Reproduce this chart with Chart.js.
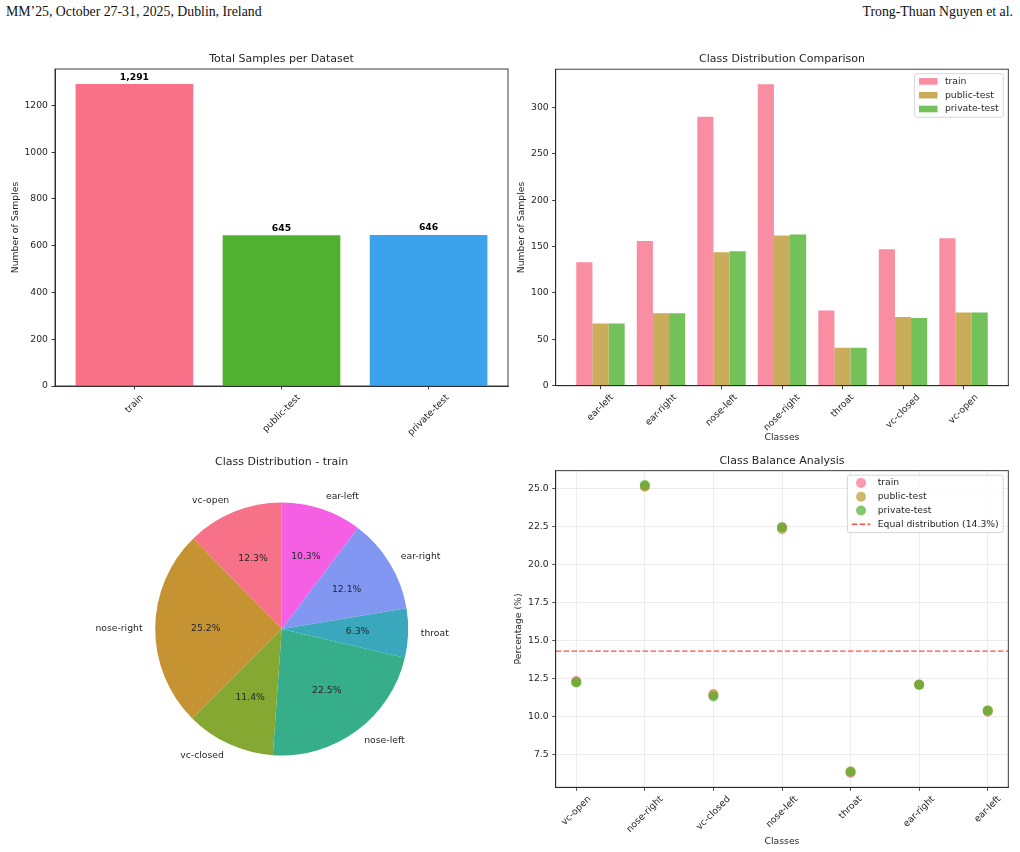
<!DOCTYPE html>
<html>
<head>
<meta charset="utf-8">
<script src="https://cdn.jsdelivr.net/npm/chart.js@4.4.1/dist/chart.umd.min.js"></script>
<style>
  body { margin: 0; background: #fff; width: 1020px; height: 852px; position: relative; overflow: hidden; }
  .hdr { position: absolute; top: 4px; font-family: "Liberation Serif", serif; font-size: 13.8px; line-height: 16px; color: #111; }
  canvas { position: absolute; }
</style>
</head>
<body>
<div class="hdr" style="left:6px">MM’25, October 27-31, 2025, Dublin, Ireland</div>
<div class="hdr" style="right:7px">Trong-Thuan Nguyen et al.</div>
<canvas id="totals" width="510" height="410" style="left:0;top:40px"></canvas>
<canvas id="compare" width="510" height="410" style="left:510px;top:40px"></canvas>
<canvas id="pie" width="510" height="402" style="left:0;top:450px"></canvas>
<canvas id="balance" width="510" height="402" style="left:510px;top:450px"></canvas>
<script>
// data
const splits = ['train', 'public-test', 'private-test'];
const splitTotals = [1291, 645, 646];
const totalTicks = [0, 200, 400, 600, 800, 1000, 1200];

const classes = ['ear-left', 'ear-right', 'nose-left', 'nose-right', 'throat', 'vc-closed', 'vc-open'];
const trainCounts = [133, 156, 290, 325, 81, 147, 159];
const publicCounts = [67, 78, 144, 162, 41, 74, 79];
const privateCounts = [67, 78, 145, 163, 41, 73, 79];
const countTicks = [0, 50, 100, 150, 200, 250, 300];

// pie slices, clockwise from 12 o'clock
const pieClasses = ['ear-left', 'ear-right', 'throat', 'nose-left', 'vc-closed', 'nose-right', 'vc-open'];
const pieCounts = [133, 156, 81, 290, 147, 325, 159];

const balanceClasses = ['vc-open', 'nose-right', 'vc-closed', 'nose-left', 'throat', 'ear-right', 'ear-left'];
const trainPct = [12.32, 25.17, 11.39, 22.46, 6.27, 12.08, 10.30];
const publicPct = [12.25, 25.12, 11.47, 22.33, 6.36, 12.09, 10.39];
const privatePct = [12.23, 25.23, 11.30, 22.45, 6.35, 12.07, 10.37];
const pctTicks = [7.5, 10.0, 12.5, 15.0, 17.5, 20.0, 22.5, 25.0];
const equalPct = 14.29;

const ink = '#262626';
const FS = 9.25;
const FONT = '"DejaVu Sans", sans-serif';
const splitColors = ['#f77189', '#50b131', '#3ba3ec'];
const seriesRGB = ['247,113,137', '187,152,50', '80,177,49'];
const pieColors = ['#f45fe3', '#8297f1', '#39a8bd', '#36ae89', '#84a832', '#c69333', '#f77189'];

Chart.defaults.font.family = FONT;
Chart.defaults.font.size = FS;
Chart.defaults.color = ink;
Chart.defaults.animation = false;
Chart.defaults.plugins.tooltip.enabled = false;
Chart.defaults.plugins.legend.display = false;

// box around the plot like matplotlib spines
const frame = {
  id: 'frame',
  afterDraw(chart) {
    const a = chart.chartArea, ctx = chart.ctx;
    ctx.save();
    ctx.strokeStyle = ink;
    ctx.lineWidth = 0.9;
    ctx.strokeRect(a.left, a.top, a.right - a.left, a.bottom - a.top);
    ctx.restore();
  }
};

// x labels rotated 45deg, centred under the tick
const rotLabels = {
  id: 'rotLabels',
  afterDraw(chart, args, opts) {
    const sx = chart.scales.x, ctx = chart.ctx;
    ctx.save();
    ctx.font = FS + 'px ' + FONT;
    ctx.fillStyle = ink;
    ctx.textAlign = 'center';
    ctx.textBaseline = 'middle';
    opts.labels.forEach((t, i) => {
      const d = (ctx.measureText(t).width + 10.8) * Math.SQRT1_2;
      ctx.save();
      ctx.translate(sx.getPixelForValue(i), sx.top + 6.5 + d / 2);
      ctx.rotate(-Math.PI / 4);
      ctx.fillText(t, 0, 0);
      ctx.restore();
    });
    ctx.restore();
  }
};

// upper-right legend box
const boxLegend = {
  id: 'boxLegend',
  afterDraw(chart, args, opts) {
    const ctx = chart.ctx, a = chart.chartArea;
    ctx.save();
    ctx.font = FS + 'px ' + FONT;
    const tw = Math.max(...opts.items.map(it => ctx.measureText(it.label).width));
    const w = 4.4 + 18.5 + 7.4 + tw + 4.6;
    const step = 13.8;
    const h = 7.7 + (opts.items.length - 1) * step + 8.3;
    const x0 = a.right - 5 - w, y0 = a.top + 4.5;
    ctx.fillStyle = 'rgba(255,255,255,0.8)';
    ctx.strokeStyle = '#cccccc';
    ctx.lineWidth = 0.8;
    ctx.beginPath();
    ctx.roundRect(x0, y0, w, h, 2.5);
    ctx.fill();
    ctx.stroke();
    opts.items.forEach((it, i) => {
      const cy = y0 + 7.7 + i * step;
      const hx = x0 + 4.4;
      if (it.kind === 'patch') {
        ctx.fillStyle = it.color;
        ctx.fillRect(hx, cy - 3.3, 18.5, 6.6);
      } else if (it.kind === 'dot') {
        ctx.fillStyle = it.color;
        ctx.beginPath();
        ctx.arc(hx + 9.25, cy, 5, 0, Math.PI * 2);
        ctx.fill();
      } else {
        ctx.strokeStyle = it.color;
        ctx.lineWidth = 1.4;
        ctx.setLineDash([5.5, 2.4]);
        ctx.beginPath();
        ctx.moveTo(hx, cy);
        ctx.lineTo(hx + 18.5, cy);
        ctx.stroke();
        ctx.setLineDash([]);
      }
      ctx.fillStyle = ink;
      ctx.textBaseline = 'middle';
      ctx.textAlign = 'left';
      ctx.fillText(it.label, hx + 18.5 + 7.4, cy);
    });
    ctx.restore();
  }
};

function xAxis(min, max, names, height, title) {
  return {
    type: 'linear', min: min, max: max, bounds: 'data', offset: false,
    afterBuildTicks: s => { s.ticks = names.map((_, i) => ({ value: i })); },
    ticks: { display: false },
    grid: { drawOnChartArea: false, offset: false, tickLength: 3.5, tickColor: ink, lineWidth: 0.9 },
    border: { color: ink, width: 0.9 },
    title: title,
    afterFit: s => { s.height = height; }
  };
}

function yAxis(min, max, tickVals, width, title, fmt) {
  return {
    min: min, max: max, bounds: 'data',
    afterBuildTicks: s => { s.ticks = tickVals.map(v => ({ value: v })); },
    ticks: { padding: 3.5, color: ink, callback: fmt },
    grid: { drawOnChartArea: false, tickLength: 3.5, tickColor: ink, lineWidth: 0.9 },
    border: { color: ink, width: 0.9 },
    title: title,
    afterFit: s => { s.width = width; }
  };
}

function axisTitle(text, pad) {
  return { display: true, text: text, color: ink, font: { size: FS }, padding: pad };
}

function plotTitle(text, top, bottom, full) {
  return { display: true, text: text, color: ink, fullSize: !!full,
    font: { size: 11, weight: 'normal' }, padding: { top: top, bottom: bottom } };
}

// 1. Total samples per dataset
new Chart(document.getElementById('totals'), {
  type: 'bar',
  data: {
    datasets: [{
      data: splitTotals.map((v, i) => ({ x: i, y: v })),
      backgroundColor: splitColors,
      borderWidth: 0,
      barPercentage: 0.8,
      categoryPercentage: 1
    }]
  },
  options: {
    responsive: false,
    layout: { padding: { left: 0, right: 2, top: 0, bottom: 0 } },
    scales: {
      x: xAxis(-0.54, 2.54, splits, 64, { display: false }),
      y: yAxis(0, 1355.55, totalTicks, 55, axisTitle('Number of Samples', { top: 10, bottom: 0 }), v => String(v))
    },
    plugins: {
      title: plotTitle('Total Samples per Dataset', 12.4, 3.4),
      rotLabels: { labels: splits }
    }
  },
  plugins: [frame, rotLabels, {
    id: 'barValues',
    afterDatasetsDraw(chart) {
      const ctx = chart.ctx;
      ctx.save();
      ctx.font = 'bold ' + FS + 'px ' + FONT;
      ctx.fillStyle = '#000';
      ctx.textAlign = 'center';
      ctx.textBaseline = 'alphabetic';
      chart.getDatasetMeta(0).data.forEach((bar, i) => {
        ctx.fillText(splitTotals[i].toLocaleString('en-US'), bar.x, bar.y - 4.5);
      });
      ctx.restore();
    }
  }]
});

// 2. Class distribution comparison
const countSeries = [trainCounts, publicCounts, privateCounts];
new Chart(document.getElementById('compare'), {
  type: 'bar',
  data: {
    datasets: countSeries.map((vals, k) => ({
      label: splits[k],
      data: vals.map((v, i) => ({ x: i, y: v })),
      backgroundColor: 'rgba(' + seriesRGB[k] + ',0.8)',
      borderWidth: 0,
      barPercentage: 1,
      categoryPercentage: 0.8
    }))
  },
  options: {
    responsive: false,
    layout: { padding: { left: 0, right: 11.7, top: 0, bottom: 0 } },
    scales: {
      x: xAxis(-0.74, 6.74, classes, 64.3, axisTitle('Classes', { top: 0, bottom: 6.4 })),
      y: yAxis(0, 341.25, countTicks, 45.7, axisTitle('Number of Samples', { top: 6.2, bottom: 0 }), v => String(v))
    },
    plugins: {
      title: plotTitle('Class Distribution Comparison', 12.7, 3.3),
      rotLabels: { labels: classes },
      boxLegend: { items: splits.map((s, k) => ({ label: s, kind: 'patch', color: 'rgba(' + seriesRGB[k] + ',0.8)' })) }
    }
  },
  plugins: [frame, rotLabels, boxLegend]
});

// 3. Pie of train classes
new Chart(document.getElementById('pie'), {
  type: 'pie',
  data: {
    labels: pieClasses,
    datasets: [{ data: pieCounts, backgroundColor: pieColors, borderWidth: 0 }]
  },
  options: {
    responsive: false,
    layout: { padding: { left: 155.2, right: 101.8, top: 0, bottom: 96.5 } },
    plugins: { title: plotTitle('Class Distribution - train', 5.1, 34.2, true) }
  },
  plugins: [{
    id: 'pieText',
    afterDatasetsDraw(chart) {
      const ctx = chart.ctx;
      const total = pieCounts.reduce((a, b) => a + b, 0);
      ctx.save();
      ctx.font = FS + 'px ' + FONT;
      ctx.fillStyle = ink;
      ctx.textBaseline = 'middle';
      chart.getDatasetMeta(0).data.forEach((arc, i) => {
        const mid = (arc.startAngle + arc.endAngle) / 2;
        const r = arc.outerRadius, c = Math.cos(mid), s = Math.sin(mid);
        ctx.textAlign = 'center';
        ctx.fillText((pieCounts[i] / total * 100).toFixed(1) + '%', arc.x + c * r * 0.6, arc.y + s * r * 0.6);
        ctx.textAlign = c > 0 ? 'left' : 'right';
        ctx.fillText(pieClasses[i], arc.x + c * r * 1.1, arc.y + s * r * 1.1);
      });
      ctx.restore();
    }
  }]
});

// 4. Class balance analysis
const pctSeries = [trainPct, publicPct, privatePct];
const y4 = yAxis(5.32, 26.18, pctTicks, 45.7, axisTitle('Percentage (%)', { top: 3.5, bottom: 0 }), v => v.toFixed(1));
y4.grid = { drawOnChartArea: true, color: '#e7e7e7', tickLength: 3.5, tickColor: ink, lineWidth: 0.8 };
const x4 = xAxis(-0.3, 6.3, balanceClasses, 64.7, axisTitle('Classes', { top: 0, bottom: 4.5 }));
x4.grid = { drawOnChartArea: true, offset: false, color: '#e7e7e7', tickLength: 3.5, tickColor: ink, lineWidth: 0.8 };
new Chart(document.getElementById('balance'), {
  type: 'scatter',
  data: {
    datasets: pctSeries.map((vals, k) => ({
      label: splits[k],
      data: vals.map((v, i) => ({ x: i, y: v })),
      backgroundColor: 'rgba(' + seriesRGB[k] + ',0.7)',
      pointRadius: 5,
      pointBorderWidth: 0,
      order: 3 - k
    })).concat([{
      label: 'Equal distribution (' + equalPct.toFixed(1) + '%)',
      data: [{ x: -0.3, y: equalPct }, { x: 6.3, y: equalPct }],
      showLine: true,
      borderColor: 'rgba(255,0,0,0.7)',
      borderWidth: 1.4,
      borderDash: [5.5, 2.4],
      pointRadius: 0,
      order: 4
    }])
  },
  options: {
    responsive: false,
    layout: { padding: { left: 0, right: 11.7, top: 0, bottom: 0 } },
    scales: { x: x4, y: y4 },
    plugins: {
      title: plotTitle('Class Balance Analysis', 4.4, 3.1),
      rotLabels: { labels: balanceClasses },
      boxLegend: {
        items: splits.map((s, k) => ({ label: s, kind: 'dot', color: 'rgba(' + seriesRGB[k] + ',0.7)' }))
          .concat([{ label: 'Equal distribution (' + equalPct.toFixed(1) + '%)', kind: 'dash', color: 'rgba(255,0,0,0.7)' }])
      }
    }
  },
  plugins: [frame, rotLabels, boxLegend]
});
</script>
</body>
</html>
